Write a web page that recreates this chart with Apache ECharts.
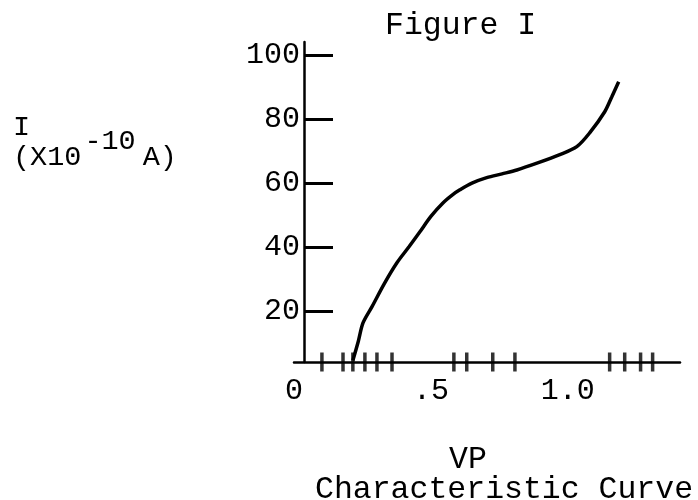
<!DOCTYPE html>
<html>
<head>
<meta charset="utf-8">
<script src="https://cdn.jsdelivr.net/npm/echarts@6/dist/echarts.min.js"></script>
<style>
  html, body { margin: 0; padding: 0; background: #fff; }
  #chart { width: 698px; height: 500px; }
</style>
</head>
<body>
<div id="chart"></div>
<script>
// curve: VP (x) vs I (x10^-10 A)
const curveX = [0.215, 0.235, 0.252, 0.285, 0.33, 0.376, 0.42, 0.46, 0.50, 0.544, 0.58, 0.606, 0.65, 0.704, 0.76, 0.814, 0.89, 0.971, 1.033, 1.08, 1.135, 1.161, 1.186]
const curveY = [4.5, 10.5, 16.2, 21.3, 28.5, 35, 40, 44.7, 49.5, 53.7, 56.3, 57.8, 59.9, 61.6, 62.8, 64, 66.2, 68.8, 71.3, 75.6, 82.2, 86.9, 91.6]
// hand marks along the VP axis
const markX = [0.102, 0.179, 0.215, 0.259, 0.303, 0.358, 0.584, 0.631, 0.726, 0.807, 1.153, 1.208, 1.266, 1.31]
const yTicks = [20, 40, 60, 80, 100]
const xTicks = [0, 0.5, 1.0]
const xTickText = ['0', '.5', '1.0']

const font = 'Liberation Mono'
const chart = echarts.init(document.getElementById('chart'))

const option = {
  backgroundColor: '#fff',
  animation: false,
  title: [
    {
      text: 'Figure I',
      left: 380,
      top: 5,
      textStyle: { fontFamily: font, fontSize: 31.5, fontWeight: 'normal', color: '#000' }
    },
    {
      text: 'I',
      left: 8,
      top: 108,
      textStyle: { fontFamily: font, fontSize: 28.5, fontWeight: 'normal', color: '#000' }
    },
    {
      text: '{a|(X10}{s|-10}{a|A)}',
      left: 8,
      top: 122,
      textStyle: {
        fontFamily: font,
        fontSize: 28.5,
        fontWeight: 'normal',
        color: '#000',
        rich: {
          a: { fontFamily: font, fontSize: 28.5, fontWeight: 'normal', color: '#000', verticalAlign: 'bottom' },
          s: { fontFamily: font, fontSize: 28.5, fontWeight: 'normal', color: '#000', verticalAlign: 'bottom', padding: [0, 7, 16, 3] }
        }
      }
    },
    {
      text: 'VP',
      left: 444,
      top: 439,
      textStyle: { fontFamily: font, fontSize: 31.5, fontWeight: 'normal', color: '#000' }
    },
    {
      text: 'Characteristic Curve',
      left: 310,
      top: 469,
      textStyle: { fontFamily: font, fontSize: 31.5, fontWeight: 'normal', color: '#000' }
    }
  ],
  grid: {
    left: 294,
    right: 18,
    top: 42,
    bottom: 138
  },
  xAxis: {
    type: 'value',
    min: 0,
    max: 1.41,
    splitLine: { show: false },
    axisTick: { show: false },
    axisLine: { onZero: false, lineStyle: { color: '#000', width: 2.5 } },
    axisLabel: {
      customValues: xTicks,
      margin: 14,
      fontFamily: font,
      fontSize: 30,
      color: '#000',
      formatter: v => xTickText[xTicks.indexOf(v)]
    }
  },
  yAxis: {
    type: 'value',
    min: 4,
    max: 104,
    offset: -10,
    splitLine: { show: false },
    axisLine: { show: true, onZero: false, lineStyle: { color: '#000', width: 2.5 } },
    axisTick: {
      show: true,
      inside: true,
      length: 29,
      customValues: yTicks,
      lineStyle: { color: '#000', width: 3 }
    },
    axisLabel: {
      customValues: yTicks,
      margin: 4,
      fontFamily: font,
      fontSize: 30,
      color: '#000'
    }
  },
  series: [
    {
      type: 'line',
      data: curveX.map((x, i) => [x, curveY[i]]),
      smooth: 0.3,
      symbol: 'none',
      lineStyle: { color: '#000', width: 3.5 }
    },
    {
      type: 'scatter',
      data: markX.map(x => [x, 4]),
      symbol: 'rect',
      symbolSize: [3.5, 19],
      clip: false,
      itemStyle: { color: '#000' }
    }
  ]
}

chart.setOption(option)
</script>
</body>
</html>
